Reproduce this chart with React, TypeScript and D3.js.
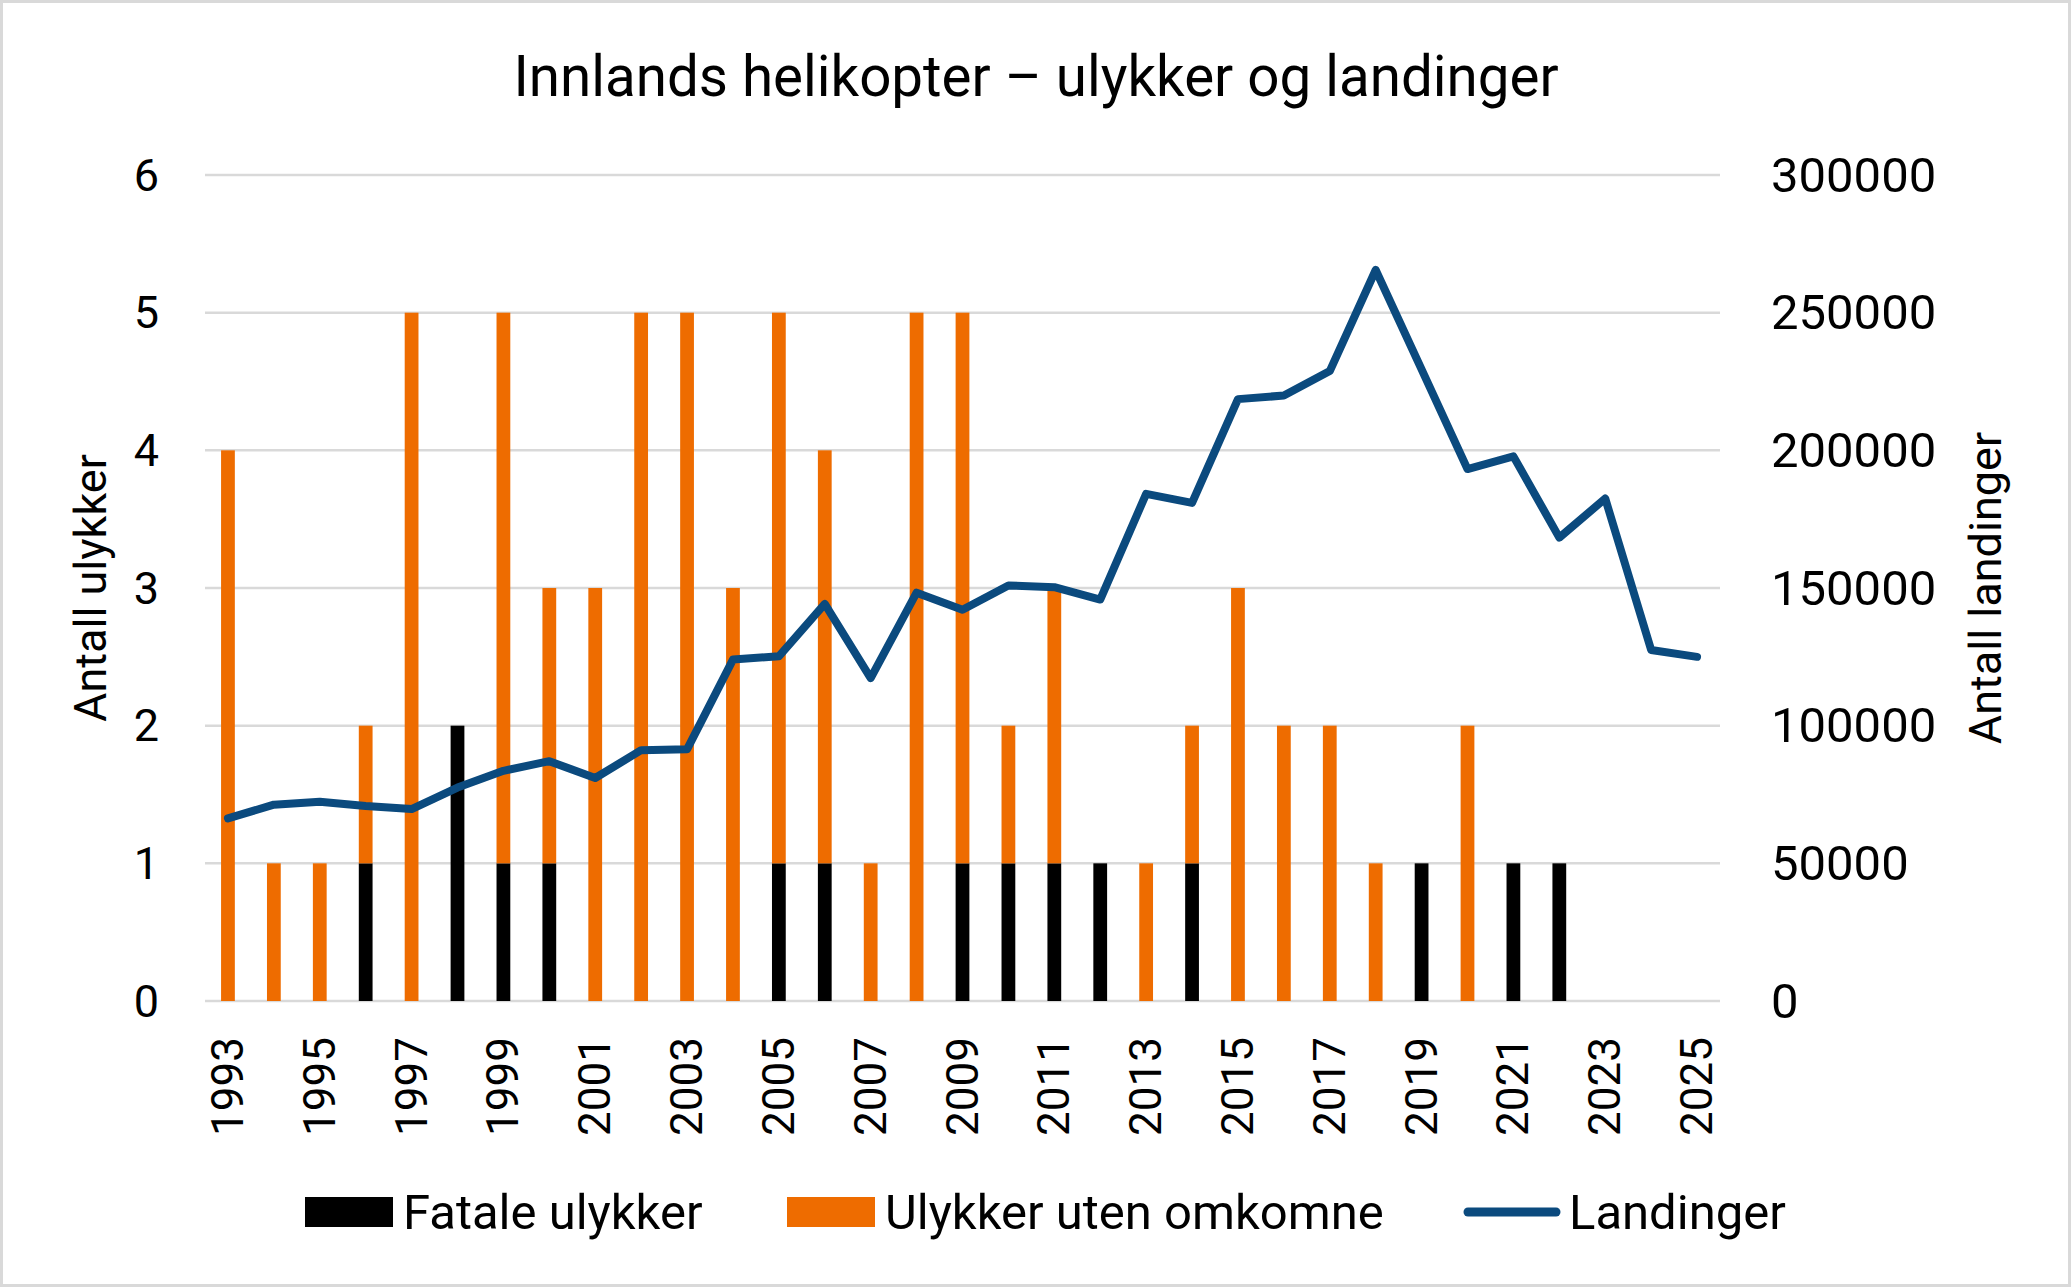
import * as d3 from "d3";

const years = [
  "1993", "1994", "1995", "1996", "1997", "1998", "1999", "2000", "2001", "2002", "2003",
  "2004", "2005", "2006", "2007", "2008", "2009", "2010", "2011", "2012", "2013", "2014",
  "2015", "2016", "2017", "2018", "2019", "2020", "2021", "2022", "2023", "2024", "2025",
];

const fatale = [0, 0, 0, 1, 0, 2, 1, 1, 0, 0, 0, 0, 1, 1, 0, 0, 1, 1, 1, 1, 0, 1, 0, 0, 0, 0, 1, 0, 1, 1, 0, 0, 0];
const utenOmkomne = [4, 1, 1, 1, 5, 0, 4, 2, 3, 5, 5, 3, 4, 3, 1, 5, 4, 1, 2, 0, 1, 1, 3, 2, 2, 1, 0, 2, 0, 0, 0, 0, 0];
const landinger = [
  66300, 71300, 72400, 70800, 69700, 77500, 83600, 87100, 81000, 91100, 91400,
  124000, 125200, 144200, 117300, 148300, 142100, 150900, 150300, 145800, 184200, 180900,
  218600, 219900, 228800, 265500, 229400, 193200, 197800, 168300, 182500, 127500, 125000,
];

const leftTicks = [0, 1, 2, 3, 4, 5, 6];
const rightTicks = [0, 50000, 100000, 150000, 200000, 250000, 300000];

const COLORS = { fatale: "#000000", uten: "#ee6c00", line: "#0b4a7e", grid: "#d9d9d9" };
const FONT = "Roboto, 'Liberation Sans', sans-serif";

export default function App() {
  const W = 2072;
  const H = 1288;
  const m = { left: 205, right: 1720, top: 175, bottom: 1001 };

  const x = d3.scaleBand().domain(years).range([m.left, m.right]).paddingInner(0.7).paddingOuter(0.35);
  const yL = d3.scaleLinear().domain([0, 6]).range([m.bottom, m.top]);
  const yR = d3.scaleLinear().domain([0, 300000]).range([m.bottom, m.top]);

  const rows = years.map((yr, i) => ({ year: yr, fatale: fatale[i], uten: utenOmkomne[i] }));
  const series = d3.stack<any>().keys(["fatale", "uten"])(rows);

  const cx = (yr: string) => (x(yr) ?? 0) + x.bandwidth() / 2;
  const line = d3
    .line<number>()
    .x((_, i) => cx(years[i]))
    .y((d) => yR(d));

  return (
    <svg width={W} height={H} style={{ position: "absolute", left: 0, top: 0, background: "#fff" }} fontFamily={FONT}>
      <rect x={1.5} y={1.5} width={W - 4} height={H - 4} fill="#fff" stroke={COLORS.grid} strokeWidth={3} />
      <text x={W / 2} y={96} textAnchor="middle" fontSize={56.5} fill="#000">
        Innlands helikopter – ulykker og landinger
      </text>

      {leftTicks.map((t) => (
        <line key={t} x1={m.left} x2={m.right} y1={yL(t)} y2={yL(t)} stroke={COLORS.grid} strokeWidth={2.5} />
      ))}

      {series.map((s) => (
        <g key={s.key} fill={s.key === "fatale" ? COLORS.fatale : COLORS.uten}>
          {s.map((d, i) =>
            d[1] > d[0] ? (
              <rect key={i} x={x(years[i])} y={yL(d[1])} width={x.bandwidth()} height={yL(d[0]) - yL(d[1])} />
            ) : null
          )}
        </g>
      ))}

      <path d={line(landinger) ?? ""} fill="none" stroke={COLORS.line} strokeWidth={8} strokeLinejoin="round" strokeLinecap="round" />

      {leftTicks.map((t) => (
        <text key={t} x={159} y={yL(t)} textAnchor="end" dominantBaseline="central" fontSize={45}>
          {t}
        </text>
      ))}
      {rightTicks.map((t) => (
        <text key={t} x={1771} y={yR(t)} dominantBaseline="central" fontSize={49}>
          {t}
        </text>
      ))}

      {years.filter((_, i) => i % 2 === 0).map((yr) => (
        <text key={yr} transform={`translate(${cx(yr)},1037) rotate(-90)`} textAnchor="end" dominantBaseline="central" fontSize={44}>
          {yr}
        </text>
      ))}

      <text transform={`translate(90,${(m.top + m.bottom) / 2}) rotate(-90)`} textAnchor="middle" dominantBaseline="central" fontSize={45}>
        Antall ulykker
      </text>
      <text transform={`translate(1985,${(m.top + m.bottom) / 2}) rotate(-90)`} textAnchor="middle" dominantBaseline="central" fontSize={45}>
        Antall landinger
      </text>

      <g fontSize={49}>
        <rect x={305} y={1197} width={88} height={30} fill={COLORS.fatale} />
        <text x={403} y={1212} dominantBaseline="central">Fatale ulykker</text>
        <rect x={787} y={1197} width={88} height={30} fill={COLORS.uten} />
        <text x={885} y={1212} dominantBaseline="central">Ulykker uten omkomne</text>
        <line x1={1468} x2={1556} y1={1212} y2={1212} stroke={COLORS.line} strokeWidth={9} strokeLinecap="round" />
        <text x={1569} y={1212} dominantBaseline="central">Landinger</text>
      </g>
    </svg>
  );
}
